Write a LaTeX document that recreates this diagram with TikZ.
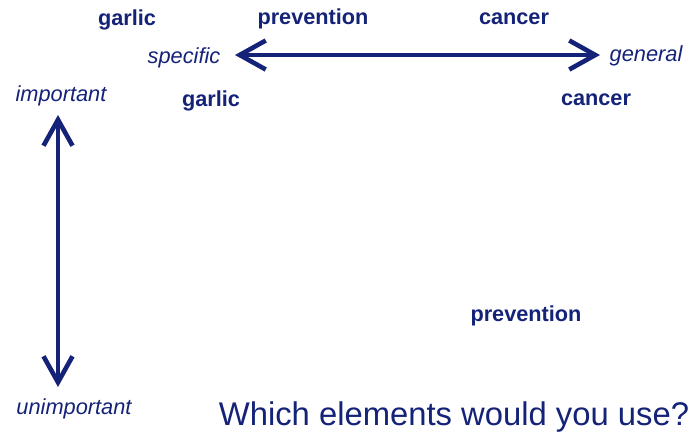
\documentclass[tikz,border=0pt]{standalone}
\usepackage{fontspec}
\setmainfont{Liberation Sans}
\usetikzlibrary{arrows.meta}
\definecolor{navy}{RGB}{20,34,120}
\tikzset{
  term/.style={font=\fontsize{21.7}{26}\selectfont\bfseries, text=navy, inner sep=0pt},
  pole/.style={font=\fontsize{21.8}{26}\selectfont\itshape, text=navy, inner sep=0pt},
  scalearrow/.style={{Straight Barb[length=26pt,width=29pt]}-{Straight Barb[length=26pt,width=29pt]}, line width=4.6pt, draw=navy, line cap=round}
}
\begin{document}
\begin{tikzpicture}[x=1pt,y=-1pt]
\useasboundingbox (0,0) rectangle (694,440);

\node[term] (garlicA) at (127,20) {garlic};
\node[term] (preventionA) at (313,19) {prevention};
\node[term] (cancerA) at (514,19) {cancer};
\node[term] (garlicB) at (211,101) {garlic};
\node[term] (cancerB) at (596,100) {cancer};
\node[term] (preventionB) at (526,316) {prevention};

\node[pole] (specific) at (184,58) {specific};
\node[pole] (general) at (646,56) {general};
\node[pole] (important) at (61,96) {important};
\node[pole] (unimportant) at (74,409) {unimportant};

\coordinate (left) at (235,55);
\coordinate (right) at (600,55);
\coordinate (top) at (58,115);
\coordinate (bottom) at (58,387);
\draw[scalearrow] (left)--(right);
\draw[scalearrow] (top)--(bottom);

\node[font=\fontsize{32.8}{38}\selectfont, text=navy, inner sep=0pt] (question) at (454,417) {Which elements would you use?};
\end{tikzpicture}
\end{document}
